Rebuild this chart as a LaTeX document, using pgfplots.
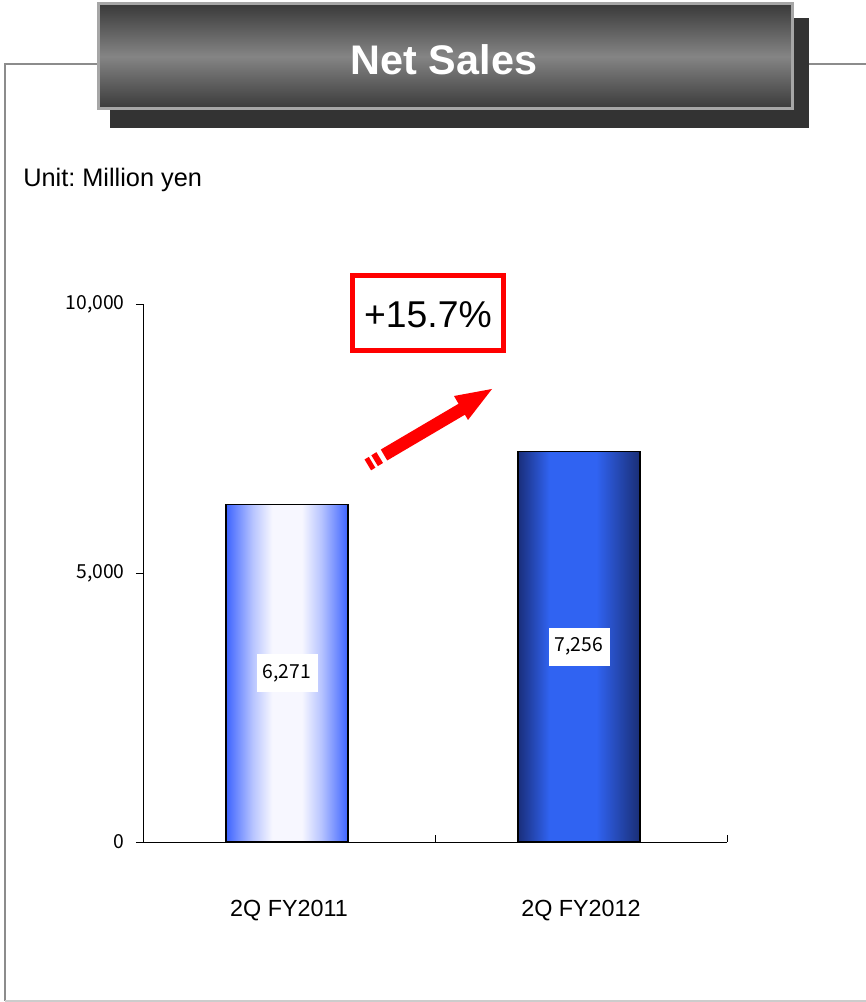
\documentclass[border=0pt]{standalone}
\usepackage{fontspec}
\setmainfont{Liberation Sans}
\newfontfamily\jpfont{Noto Sans CJK JP}
\usepackage{pgfplots}
\pgfplotsset{compat=1.18}
\definecolor{framegray}{RGB}{140,140,140}
\pgfdeclarehorizontalshading{barone}{100bp}{%
  rgb(0bp)=(0.24,0.39,1);
  rgb(25bp)=(0.24,0.39,1);
  rgb(36bp)=(0.72,0.77,1);
  rgb(44bp)=(0.97,0.97,1);
  rgb(56bp)=(0.97,0.97,1);
  rgb(64bp)=(0.72,0.77,1);
  rgb(75bp)=(0.24,0.39,1);
  rgb(100bp)=(0.24,0.39,1)}
\pgfdeclarehorizontalshading{bartwo}{100bp}{%
  rgb(0bp)=(0.10,0.18,0.48);
  rgb(25bp)=(0.10,0.18,0.48);
  rgb(38bp)=(0.19,0.39,0.95);
  rgb(57bp)=(0.19,0.39,0.95);
  rgb(75bp)=(0.10,0.18,0.46);
  rgb(100bp)=(0.10,0.18,0.46)}
\frenchspacing
\begin{document}
\begin{tikzpicture}
\begin{scope}[x=0.75pt,y=0.75pt]
\path[use as bounding box] (0,0) rectangle (866,1002);
% frame
\draw[framegray, line width=1.5pt] (5,1) -- (5,938) -- (97,938);
\draw[framegray, line width=1.5pt] (809,938) -- (866,938);
\draw[black!20, line width=1.5pt] (5,1) -- (866,1);
% title box
\fill[black!80] (110,874) rectangle (809,984);
\shade[top color=black!78, bottom color=black!78, middle color=black!48] (97,892) rectangle (793,999);
\draw[black!35, line width=2.25pt] (98,893) rectangle (792,998);
\node[white, anchor=base, inner sep=0pt, font=\bfseries\fontsize{31}{31}\selectfont] at (444,927) {Net Sales};
% unit
\node[anchor=base west, inner sep=0pt, font=\fontsize{19}{19}\selectfont] at (23,815) {Unit: Million yen};
\end{scope}
% axis
\begin{axis}[
  at={(107.25pt,120pt)}, anchor=south west,
  scale only axis, width=438pt, height=403.5pt,
  xmin=-0.5, xmax=1.5, ymin=0, ymax=10000,
  axis x line*=bottom, axis y line*=left,
  axis line style={black, line width=0.6pt},
  xtick={0,1}, xticklabels={2Q FY2011,2Q FY2012},
  major x tick style={draw=none},
  minor xtick={-0.5,0.5,1.5},
  ytick={0,5000,10000}, yticklabels={0,{5,000},{10,000}},
  scaled y ticks=false,
  xtick align=inside, ytick align=outside,
  major tick length=5.25pt, minor tick length=5.25pt,
  tick style={black, line width=0.6pt},
  xticklabel style={font=\fontsize{17.5}{17.5}\selectfont, yshift=-40pt},
  yticklabel style={font=\jpfont\fontsize{14.5}{14.5}\selectfont, xshift=-5pt},
  clip=false,
]
\addplot[ybar, bar width=91.5pt, bar shift=-1.5pt, draw=black, line width=1pt,
  shading=barone] coordinates {(0,6271)};
\addplot[ybar, bar width=91.5pt, bar shift=-1.5pt, draw=black, line width=1pt,
  shading=bartwo] coordinates {(1,7256)};
\addplot[draw=none, mark=none, nodes near coords, point meta=explicit symbolic,
  every node near coord/.append style={anchor=center, fill=white, text=black, xshift=-1.5pt,
    font=\jpfont\fontsize{14.5}{14.5}\selectfont, minimum width=45.75pt, minimum height=28.5pt, inner sep=0pt}]
  coordinates {(0,3135.5) [6,271] (1,3628) [7,256]};
\end{axis}
\begin{scope}[x=0.75pt,y=0.75pt]
% growth box
\draw[red, line width=3.75pt] (352.5,726.5) rectangle (503.5,651.5);
\node[anchor=base, inner sep=0pt, font=\fontsize{28}{28}\selectfont] at (428,674) {+15.7\%};
% arrow
\fill[red] (492,613) -- (454,606) -- (468,582) -- cycle;
\draw[red, line width=9.5pt] (384,547) -- (463,593.5);
\draw[red, line width=9.5pt] (374.6,541.3) -- (379.7,544.4);
\draw[red, line width=9.5pt] (367.8,537.1) -- (372.1,539.7);
\end{scope}
\end{tikzpicture}
\end{document}
